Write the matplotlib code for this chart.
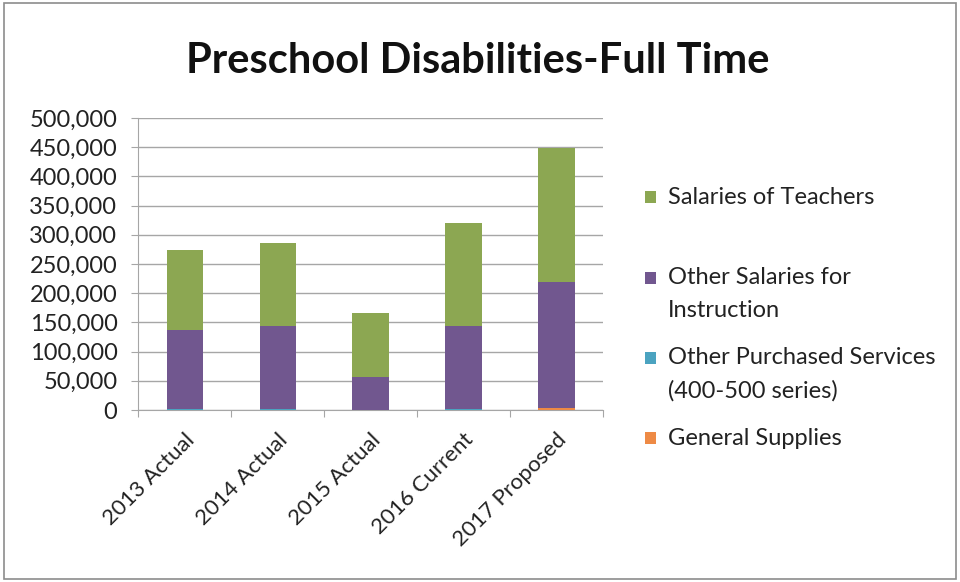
import matplotlib.pyplot as plt
import numpy as np
from matplotlib.patches import Rectangle
from matplotlib.ticker import FuncFormatter, MultipleLocator

categories = ["2013 Actual", "2014 Actual", "2015 Actual", "2016 Current", "2017 Proposed"]
general_supplies = [0, 0, 0, 0, 3000]
purchased_services = [2000, 2000, 0, 2000, 1000]
other_salaries = [135000, 142000, 56000, 142000, 215000]
teacher_salaries = [137000, 142000, 110000, 176000, 230000]

series = [
    ("General Supplies", general_supplies, "#EE8A45"),
    ("Other Purchased Services\n(400-500 series)", purchased_services, "#4BA3C0"),
    ("Other Salaries for\nInstruction", other_salaries, "#71578F"),
    ("Salaries of Teachers", teacher_salaries, "#8CA752"),
]

plt.rcParams['font.family'] = ['Lato', 'DejaVu Sans']
text_col = "#222222"

fig = plt.figure(figsize=(9.6, 5.82), dpi=100)
fig.patches.append(Rectangle((0.004, 0.006), 0.992, 0.988, transform=fig.transFigure,
                             fill=False, edgecolor="#8C8C8C", linewidth=1.2))

ax = fig.add_axes([0.144, 0.2955, 0.484, 0.502])
x = np.arange(len(categories))
bottom = np.zeros(len(categories))
for name, vals, color in series:
    ax.bar(x, vals, width=0.39, bottom=bottom, color=color, zorder=3)
    bottom += np.array(vals)

ax.set_xlim(-0.5, len(categories) - 0.5)
ax.set_ylim(0, 500000)
ax.yaxis.set_major_locator(MultipleLocator(50000))
ax.yaxis.set_major_formatter(FuncFormatter(lambda v, p: f"{int(v):,}"))
ax.grid(axis="y", color="#A6A6A6", linewidth=1.0, zorder=0)

ax.set_xticks(np.arange(len(categories) + 1) - 0.5)
ax.set_xticklabels([])
ax.set_xticks(x, minor=True)
ax.set_xticklabels(categories, minor=True, rotation=45, ha="right",
                   rotation_mode="anchor", fontsize=16, color=text_col)
ax.tick_params(axis="x", which="minor", length=0, pad=14)
ax.tick_params(axis="x", which="major", length=5, color="#A6A6A6")
ax.tick_params(axis="y", length=5, color="#A6A6A6", labelsize=17, pad=10,
               labelcolor=text_col)

for s in ["top", "right"]:
    ax.spines[s].set_visible(False)
ax.spines["left"].set_color("#A6A6A6")
ax.spines["bottom"].set_color("#A6A6A6")

fig.text(0.498, 0.895, "Preschool Disabilities-Full Time", ha="center", va="center",
         fontsize=30, fontweight="bold", color="#111111")

# legend, drawn by hand to follow the reference spacing
text_y = [0.6615, 0.4948, 0.3574, 0.2474]
box_y = [0.6615, 0.5223, 0.3849, 0.2474]
for (name, vals, color), ty, by in zip(series[::-1], text_y, box_y):
    fig.patches.append(Rectangle((0.672, by - 0.0095), 0.0115, 0.019,
                                 transform=fig.transFigure, facecolor=color))
    fig.text(0.696, ty, name, ha="left", va="center", fontsize=17,
             linespacing=1.7, color=text_col)

fig.savefig("out.png", dpi=100)
